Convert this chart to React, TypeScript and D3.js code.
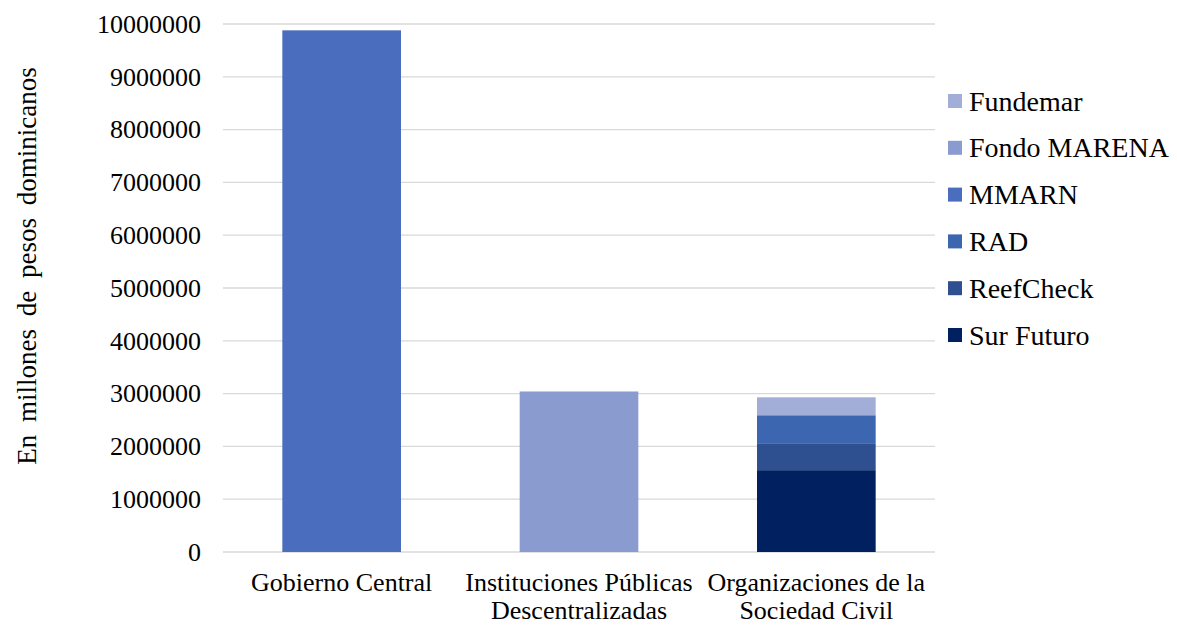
import { useEffect, useRef } from 'react';
import * as d3 from 'd3';

const categories = [
  'Gobierno Central',
  'Instituciones Públicas Descentralizadas',
  'Organizaciones de la Sociedad Civil',
];
const categoryLines = [
  ['Gobierno Central'],
  ['Instituciones Públicas', 'Descentralizadas'],
  ['Organizaciones de la', 'Sociedad Civil'],
];

// stack order, bottom to top
const seriesNames = ['Sur Futuro', 'ReefCheck', 'RAD', 'MMARN', 'Fondo MARENA', 'Fundemar'];
const surFuturo = [0, 0, 1550000];
const reefCheck = [0, 0, 510000];
const rad = [0, 0, 530000];
const mmarn = [9880000, 0, 0];
const fondoMarena = [0, 3040000, 0];
const fundemar = [0, 0, 340000];
const seriesColors = ['#00205f', '#2f5090', '#3c66af', '#4a6dbd', '#8a9ccf', '#a2aed8'];

const yTicks = [0, 1000000, 2000000, 3000000, 4000000, 5000000, 6000000, 7000000, 8000000, 9000000, 10000000];

const W = 1177;
const H = 626;
const FONT = 'Liberation Serif, Times New Roman, serif';

export default function App() {
  const ref = useRef<SVGSVGElement | null>(null);

  useEffect(() => {
    if (!ref.current) return;
    const svg = d3.select(ref.current);
    svg.selectAll('*').remove();

    const margin = { left: 223, right: 242, top: 24, bottom: 74 };
    const innerW = W - margin.left - margin.right;
    const innerH = H - margin.top - margin.bottom;

    const x = d3.scaleBand<string>().domain(categories).range([0, innerW]).padding(0);
    const y = d3.scaleLinear().domain([0, 10000000]).range([innerH, 0]);

    const g = svg.append('g').attr('transform', `translate(${margin.left},${margin.top})`);

    // gridlines
    g.selectAll('line.grid')
      .data(yTicks)
      .join('line')
      .attr('class', 'grid')
      .attr('x1', 0)
      .attr('x2', innerW)
      .attr('y1', (d) => y(d))
      .attr('y2', (d) => y(d))
      .attr('stroke', '#d9d9d9')
      .attr('stroke-width', 1.3);

    // tick labels
    g.selectAll('text.ytick')
      .data(yTicks)
      .join('text')
      .attr('class', 'ytick')
      .attr('x', -22)
      .attr('y', (d) => y(d))
      .attr('dy', '0.34em')
      .attr('text-anchor', 'end')
      .attr('font-family', FONT)
      .attr('font-size', 26)
      .attr('fill', '#000')
      .text((d) => String(d));

    const rows = categories.map((c, i) => ({
      cat: c,
      'Sur Futuro': surFuturo[i],
      ReefCheck: reefCheck[i],
      RAD: rad[i],
      MMARN: mmarn[i],
      'Fondo MARENA': fondoMarena[i],
      Fundemar: fundemar[i],
    }));
    const stacked = d3.stack<any>().keys(seriesNames)(rows);
    const barW = x.bandwidth() * 0.5;

    stacked.forEach((layer, si) => {
      g.selectAll(`rect.s${si}`)
        .data(layer.filter((d) => d[1] - d[0] > 0))
        .join('rect')
        .attr('class', `s${si}`)
        .attr('x', (d) => (x(d.data.cat) || 0) + (x.bandwidth() - barW) / 2)
        .attr('y', (d) => y(d[1]))
        .attr('width', barW)
        .attr('height', (d) => y(d[0]) - y(d[1]))
        .attr('fill', seriesColors[si]);
    });

    // category labels
    categoryLines.forEach((lines, i) => {
      const cx = (x(categories[i]) || 0) + x.bandwidth() / 2;
      lines.forEach((line, j) => {
        g.append('text')
          .attr('x', cx)
          .attr('y', innerH + 39 + j * 28)
          .attr('text-anchor', 'middle')
          .attr('font-family', FONT)
          .attr('font-size', 26)
          .attr('fill', '#000')
          .text(line);
      });
    });

    // y axis title
    svg.append('text')
      .attr('transform', 'translate(36, 266) rotate(-90)')
      .attr('text-anchor', 'middle')
      .attr('font-family', FONT)
      .attr('font-size', 27)
      .attr('word-spacing', 6)
      .attr('fill', '#000')
      .text('En millones de pesos dominicanos');

    // legend (reverse order)
    const legend = svg.append('g').attr('transform', 'translate(948, 101)');
    seriesNames
      .slice()
      .reverse()
      .forEach((name, i) => {
        const si = seriesNames.length - 1 - i;
        const item = legend.append('g').attr('transform', `translate(0, ${i * 46.8})`);
        item.append('rect')
          .attr('x', 0)
          .attr('y', -7)
          .attr('width', 14)
          .attr('height', 14)
          .attr('fill', seriesColors[si]);
        item.append('text')
          .attr('x', 21)
          .attr('y', 0)
          .attr('dy', '0.34em')
          .attr('font-family', FONT)
          .attr('font-size', 28)
          .attr('fill', '#000')
          .text(name);
      });
  }, []);

  return (
    <svg
      ref={ref}
      width={W}
      height={H}
      style={{ position: 'absolute', left: 0, top: 0, background: '#fff' }}
    />
  );
}
